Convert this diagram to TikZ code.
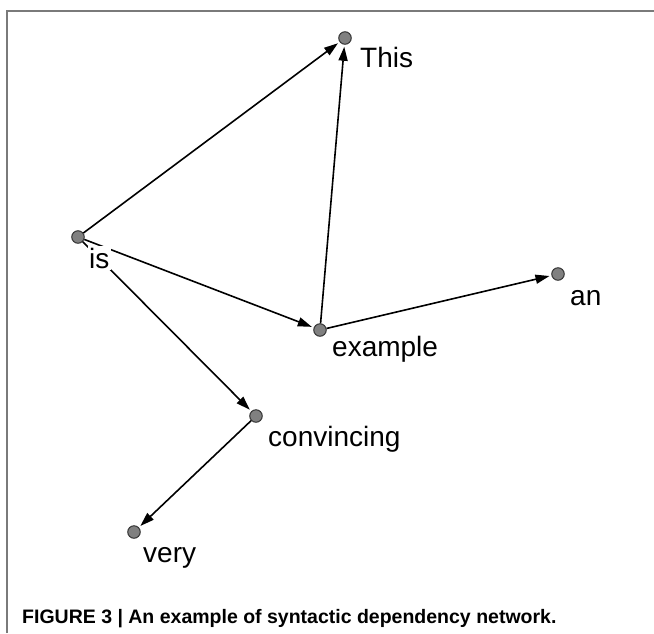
\documentclass[tikz,border=0pt]{standalone}
\usepackage{fontspec}
\setmainfont{Liberation Sans}
\usetikzlibrary{arrows.meta}
\definecolor{dotfill}{HTML}{808080}
\definecolor{framegray}{HTML}{7A7A7A}
\tikzset{
  word/.style={circle, fill=dotfill, draw=black!80, line width=1pt, minimum size=12.5pt, inner sep=0pt},
  wlabel/.style={anchor=base west, fill=white, inner sep=1.5pt, font=\fontsize{28}{30}\selectfont},
  dep/.style={line width=1.6pt, -{Triangle[length=14pt,width=9pt]}, shorten >=2pt},
  frameline/.style={draw=framegray, line width=2pt}
}
\begin{document}
\begin{tikzpicture}[x=1pt,y=-1pt]
\useasboundingbox (0,0) rectangle (654,633);
\fill[white] (0,0) rectangle (654,633);
\coordinate (fa) at (7,633);
\coordinate (fb) at (7,11);
\coordinate (fc) at (654,11);
\draw[frameline] (fa) -- (fb) -- (fc);
% nodes
\node[word] (this) at (345,38) {};
\node[word] (is) at (78,237) {};
\node[word] (example) at (320,330) {};
\node[word] (an) at (558,274) {};
\node[word] (convincing) at (256,416) {};
\node[word] (very) at (134,532) {};
% edges
\draw[dep] (is) -- (this);
\draw[dep] (example) -- (this);
\draw[dep] (is) -- (example);
\draw[dep] (example) -- (an);
\draw[dep] (is) -- (convincing);
\draw[dep] (convincing) -- (very);
% labels (white boxes cover the lines, as in the reference)
\node[wlabel] (lthis) at (358.5,67) {This};
\node[wlabel] (lis) at (87.5,268) {is};
\node[wlabel] (lexample) at (330.5,356) {example};
\node[wlabel] (lan) at (568.5,305) {an};
\node[wlabel] (lconvincing) at (266.5,446) {convincing};
\node[wlabel] (lvery) at (141.5,562) {very};
% caption
\node[anchor=base west, inner sep=0pt, font=\bfseries\fontsize{19.5}{22}\selectfont] (caption) at (22,623) {FIGURE 3 | An example of syntactic dependency network.};
\end{tikzpicture}
\end{document}
